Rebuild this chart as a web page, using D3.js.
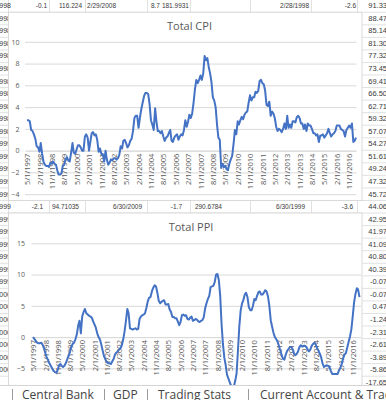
<!DOCTYPE html>
<html>
<head>
<meta charset="utf-8">
<script src="https://cdnjs.cloudflare.com/ajax/libs/d3/7.8.5/d3.min.js"></script>
<style>
body { margin: 0; background: #fff; }
svg { display: block; }
.cell { font-family: "Liberation Sans", Arial, sans-serif; font-size: 6.5px; fill: #3a3a3a; }
.ttl { font-family: "Open Sans", "Noto Sans", sans-serif; font-size: 11px; fill: #595959; }
.yax text, .xax text { font-family: "Open Sans", "Noto Sans", sans-serif; fill: #595959; }
.yax text { font-size: 7px; }
.xax text { font-size: 7.5px; }
.yax line { stroke: #d9d9d9; }
.series { fill: none; stroke: #4472c4; stroke-width: 2; stroke-linejoin: round; }
.tabs text { font-family: "Open Sans", "Noto Sans", sans-serif; font-size: 12px; fill: #444; }
</style>
</head>
<body>
<script>
var w = 386;
var h = 400;

// monthly, 5/1997 .. 4/2017
var cpiValues = [
  2.8, 2.8, 2.7, 1.9, 1.8, 1.5, 1.1, 0.4,
  0.3, -0.1, 0.7, -0.3, -1.0, -1.3, -1.4, -1.4, -1.5, -1.1, -1.2, -1.0,
  -1.2, -1.3, -1.8, -2.2, -2.2, -2.1, -1.4, -1.3, -0.8, -0.6, -0.9, -1.0,
  -0.2, 0.7, -0.2, -0.3, 0.1, 0.5, 0.5, 0.3, 0.0, 0.0, 1.3, 1.5,
  1.2, 0.0, 0.8, 1.6, 1.7, 1.4, 1.5, 1.0, -0.1, 0.2, -0.3, -0.3,
  -1.0, 0.0, -0.8, -1.3, -1.1, -0.8, -0.9, -0.7, -0.7, -0.8, -0.7, -0.4,
  0.4, 0.2, 0.9, 1.0, 0.7, 0.3, 0.5, 0.9, 1.1, 1.8, 3.0, 3.2,
  3.2, 2.1, 3.0, 3.8, 4.4, 5.0, 5.3, 5.3, 5.2, 4.3, 2.8, 2.4,
  1.9, 3.9, 2.7, 1.8, 1.8, 1.6, 1.8, 1.3, 0.9, 1.2, 1.3, 1.6,
  1.9, 0.9, 0.8, 1.2, 1.4, 1.5, 1.0, 1.3, 1.5, 1.4, 1.9, 2.8,
  2.2, 2.7, 3.3, 3.0, 3.4, 4.4, 5.6, 6.5, 6.2, 6.5, 6.9, 6.5,
  7.1, 8.7, 8.3, 8.5, 7.7, 7.1, 6.3, 4.9, 4.6, 4.0, 2.4, 1.2,
  1.0, -1.6, -1.2, -1.5, -1.4, -1.7, -1.8, -1.2, -0.8, -0.5, 0.6, 1.9,
  1.5, 2.7, 2.4, 2.8, 3.1, 2.9, 3.3, 3.5, 3.6, 4.4, 5.1, 4.6,
  4.9, 4.9, 5.4, 5.3, 5.5, 6.4, 6.5, 6.2, 6.1, 5.5, 4.2, 4.1,
  4.5, 3.2, 3.6, 3.4, 3.0, 2.2, 1.8, 2.0, 1.9, 1.7, 2.0, 2.5,
  2.0, 3.2, 2.1, 2.4, 2.1, 2.7, 2.7, 2.6, 3.1, 3.2, 3.0, 2.5,
  2.5, 2.0, 2.4, 1.8, 2.5, 2.3, 2.3, 2.0, 1.6, 1.6, 1.4, 1.5,
  0.8, 1.4, 1.4, 1.5, 1.2, 1.4, 1.6, 2.0, 1.6, 1.3, 1.5, 1.6,
  1.8, 2.3, 2.3, 2.3, 2.0, 1.9, 1.8, 1.3, 1.9, 2.1, 2.3, 2.1,
  2.5, 0.8, 0.9, 1.2
];

var ppiValues = [
  0.0, -0.3, -0.6, -0.9, -1.0, -1.0, -0.9, -1.2,
  -1.8, -2.6, -3.2, -3.7, -4.2, -4.6, -5.0, -5.4, -5.6, -5.7, -5.3, -4.5,
  -4.3, -4.6, -4.8, -4.6, -4.2, -3.6, -3.0, -2.4, -1.6, -1.1, -0.9, -0.4,
  0.4, 1.8, 2.6, 0.6, 3.3, 4.0, 4.5, 3.8, 3.6, 3.4, 3.3, 3.1,
  2.5, 2.0, 1.5, 0.6, 0.0, -0.4, -1.2, -2.2, -3.1, -3.6, -4.0, -4.2,
  -4.2, -4.3, -3.9, -3.5, -2.8, -2.5, -2.3, -2.0, -1.8, -1.3, -0.4, 0.9,
  2.6, 4.5, 3.8, 1.4, 1.3, 1.2, 1.3, 1.4, 1.2, 1.3, 2.9, 3.3,
  3.5, 3.6, 3.8, 4.7, 5.7, 6.3, 6.4, 7.3, 7.9, 8.3, 8.1, 7.1,
  5.8, 5.4, 5.6, 5.8, 5.9, 5.2, 5.2, 5.3, 4.4, 4.0, 3.2, 3.2,
  3.0, 3.0, 2.5, 1.9, 2.4, 3.5, 3.6, 3.4, 3.5, 2.9, 2.8, 3.1,
  3.3, 2.6, 2.7, 2.9, 2.8, 2.5, 2.4, 2.6, 2.7, 3.2, 4.6, 5.4,
  6.1, 6.6, 8.0, 8.1, 8.2, 8.8, 10.0, 10.1, 9.1, 6.6, 2.0, -1.1,
  -3.3, -4.5, -6.0, -6.6, -7.2, -7.8, -8.2, -7.9, -7.0, -5.8, -2.1, 1.7,
  4.3, 5.4, 5.9, 6.8, 7.1, 6.4, 4.8, 4.3, 4.3, 5.0, 6.1, 5.9,
  6.6, 7.2, 7.3, 6.8, 6.8, 7.1, 7.5, 7.3, 6.5, 5.0, 2.7, 1.7,
  0.7, 0.0, -0.3, -0.7, -1.4, -2.1, -2.9, -3.5, -3.6, -2.8, -2.2, -1.9,
  -1.6, -1.6, -1.9, -2.6, -2.9, -2.7, -2.3, -1.6, -1.3, -1.5, -1.4, -1.4,
  -1.6, -2.0, -2.3, -2.0, -1.4, -1.1, -0.9, -1.2, -1.8, -2.2, -2.7, -3.3,
  -4.3, -4.8, -4.6, -4.6, -4.6, -4.8, -5.4, -5.9, -5.9, -5.9, -5.9, -5.9,
  -5.3, -4.9, -4.3, -3.4, -2.8, -2.6, -1.7, -0.8, 0.1, 1.2, 3.3, 5.5,
  6.9, 7.8, 7.6, 6.4
];

var dateLabels = ["5/1/1997","2/1/1998","11/1/1998","8/1/1999","5/1/2000","2/1/2001","11/1/2001",
  "8/1/2002","5/1/2003","2/1/2004","11/1/2004","8/1/2005","5/1/2006","2/1/2007","11/1/2007",
  "8/1/2008","5/1/2009","2/1/2010","11/1/2010","8/1/2011","5/1/2012","2/1/2013","11/1/2013",
  "8/1/2014","5/1/2015","2/1/2016","11/1/2016"];
var cpiTicks = [-4, -2, 0, 2, 4, 6, 8, 10];
var ppiTicks = [-5, 0, 5, 10, 15];   // axis runs down to -10, hidden under the tabs

// sheet cells around the charts
var topRowText = ["-0.1", "116.224", "2/29/2008", "8.7", "181.9931", "2/28/1998", "-2.6"];
var midRowText = ["-2.1", "94.71035", "6/30/2009", "-1.7", "290.6784", "6/30/1999", "-3.6"];
var rightColText = ["91.33","88.47","85.14","81.30","77.32","73.45","69.41","66.50","62.71","59.32",
  "57.07","54.27","51.61","49.24","47.32","45.72","44.06","42.95","41.97","41.09","40.80","40.39",
  "-0.07","-0.07","0.47","-1.24","-2.31","-2.61","-3.89","-5.86","-17.65"];
var leftColText = ["2/28/1998","3/31/1998","4/30/1998","5/31/1998","6/30/1998","7/31/1998","8/31/1998",
  "9/30/1998","10/31/1998","11/30/1998","12/31/1998","1/31/1999","2/28/1999","3/31/1999","4/30/1999",
  "5/31/1999","6/30/1999","7/31/1999","8/31/1999","9/30/1999","10/31/1999","11/30/1999","12/31/1999",
  "1/31/2000","2/29/2000","3/31/2000","4/30/2000","5/31/2000","6/30/2000","7/31/2000"];
var tabNames = ["Central Bank", "GDP", "Trading Stats", "Current Account & Trade"];

// layout
var rowH = 12.55, row0 = -0.3;
var topRowEnd = [47, 82, 116, 160, 189, 309, 356];
var midRowEnd = [43, 79, 142, 182, 222, 305, 353];
var colLines = [8.5, 49.5, 85.5, 147.5, 190.5, 250.5, 311.5, 357.5];
var tabX = [22, 113, 158, 260];
var tabSep = [12, 104, 147, 248];

var parse = d3.timeParse("%m/%d/%Y");
var months = d3.timeMonth.range(new Date(1997, 4, 1), new Date(2017, 4, 1));
var tickDates = dateLabels.map(function(s) { return parse(s); });

var svg = d3.select("body").append("svg")
  .attr("width", w).attr("height", h);

svg.append("rect").attr("width", w).attr("height", h).attr("fill", "#fff");

// spreadsheet grid
var grid = svg.append("g");
for (var k = 0; k < 32; k++) {
  grid.append("line")
    .attr("x1", 0).attr("x2", w)
    .attr("y1", row0 + (k + 1) * rowH).attr("y2", row0 + (k + 1) * rowH)
    .attr("stroke", "#e1e1e1");
}
colLines.forEach(function(x) {
  grid.append("line").attr("x1", x).attr("x2", x).attr("y1", 0).attr("y2", h)
    .attr("stroke", "#e1e1e1");
});

function rowY(k) { return row0 + k * rowH + rowH / 2 + 2.3; }

grid.selectAll("text.tr").data(topRowText).enter().append("text")
  .attr("class", "cell").attr("text-anchor", "end")
  .attr("x", function(d, i) { return topRowEnd[i]; })
  .attr("y", rowY(0)).text(function(d) { return d; });
grid.selectAll("text.mr").data(midRowText).enter().append("text")
  .attr("class", "cell").attr("text-anchor", "end")
  .attr("x", function(d, i) { return midRowEnd[i]; })
  .attr("y", rowY(16)).text(function(d) { return d; });
grid.selectAll("text.rc").data(rightColText).enter().append("text")
  .attr("class", "cell").attr("text-anchor", "end").style("font-size", "7.5px")
  .attr("x", 387).attr("y", function(d, i) { return rowY(i); }).text(function(d) { return d; });
grid.selectAll("text.lc").data(leftColText).enter().append("text")
  .attr("class", "cell").attr("text-anchor", "end").style("font-size", "7px")
  .attr("x", 11).attr("y", function(d, i) { return rowY(i); }).text(function(d) { return d; });

function drawChart(o) {
  var g = svg.append("g");
  g.append("rect")
    .attr("x", 8.5).attr("y", o.top).attr("width", 353.5).attr("height", o.bottom - o.top)
    .attr("fill", "#fff").attr("stroke", "#d9d9d9");

  g.append("text").attr("class", "ttl").attr("text-anchor", "middle")
    .attr("x", o.titleX).attr("y", o.titleY).text(o.title);

  var x = d3.scaleTime().domain([months[0], months[months.length - 1]]).range(o.xRange);
  var y = d3.scaleLinear().domain(o.yDomain).range(o.yRange);

  var ya = g.append("g").attr("class", "yax")
    .attr("transform", "translate(" + o.gridL + ",0)")
    .call(d3.axisLeft(y).tickValues(o.ticks).tickSize(-(o.gridR - o.gridL)).tickPadding(o.pad));
  ya.select(".domain").remove();

  var xa = g.append("g").attr("class", "xax")
    .attr("transform", "translate(0," + y(0) + ")")
    .call(d3.axisBottom(x).tickValues(tickDates)
      .tickFormat(function(d, i) { return dateLabels[i]; })
      .tickSize(0).tickSizeOuter(0));
  xa.select(".domain").attr("stroke", "#d9d9d9");
  xa.selectAll("text")
    .attr("transform", "rotate(-90)")
    .attr("text-anchor", "end")
    .attr("x", -3).attr("y", 0).attr("dy", "0.35em");

  var line = d3.line()
    .x(function(d, i) { return x(months[i]); })
    .y(function(d) { return y(d); });

  g.append("path").datum(o.values).attr("class", "series").attr("d", line);
}

drawChart({
  top: 12.25, bottom: 200.5, title: "Total CPI", titleX: 189.5, titleY: 29.5,
  xRange: [27, 356], yDomain: [-4, 10], yRange: [194.2, 41.8],
  gridL: 25, gridR: 356.5, pad: 5.5, ticks: cpiTicks, values: cpiValues
});

drawChart({
  top: 213, bottom: 420, title: "Total PPI", titleX: 191, titleY: 230.5,
  xRange: [33, 359.5], yDomain: [-10, 15], yRange: [399.6, 243.3],
  gridL: 31.5, gridR: 361, pad: 6.5, ticks: ppiTicks, values: ppiValues
});

// sheet tabs
var tabs = svg.append("g").attr("class", "tabs");
tabs.append("rect").attr("x", 0).attr("y", 385).attr("width", w).attr("height", 15).attr("fill", "#fff");
tabs.append("line").attr("x1", 0).attr("x2", w).attr("y1", 385.5).attr("y2", 385.5).attr("stroke", "#d4d4d4");
tabSep.forEach(function(x) {
  tabs.append("line").attr("x1", x + 0.5).attr("x2", x + 0.5).attr("y1", 389).attr("y2", 400)
    .attr("stroke", "#9a9a9a");
});
tabs.selectAll("text").data(tabNames).enter().append("text")
  .attr("x", function(d, i) { return tabX[i]; }).attr("y", 399)
  .text(function(d) { return d; });
</script>
</body>
</html>
